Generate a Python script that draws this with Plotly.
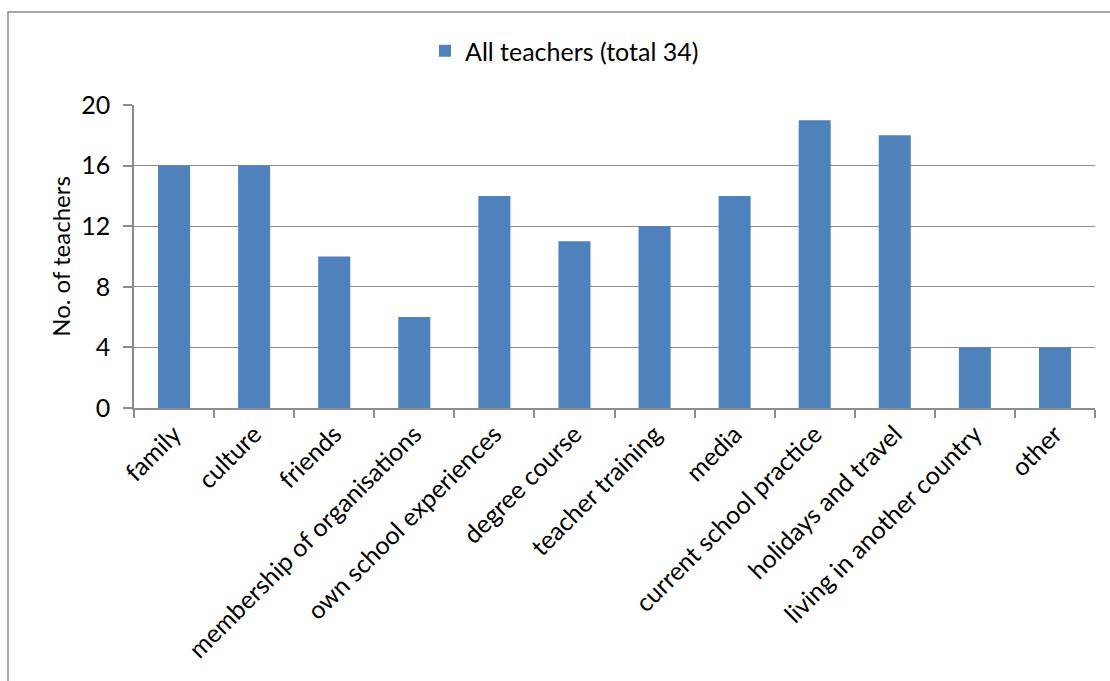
import plotly.graph_objects as go

categories = ["family", "culture", "friends", "membership of organisations",
              "own school experiences", "degree course", "teacher training", "media",
              "current school practice", "holidays and travel",
              "living in another country", "other"]
values = [16, 16, 10, 6, 14, 11, 12, 14, 19, 18, 4, 4]
series_name = "All teachers (total 34)"
y_ticks = [0, 4, 8, 12, 16, 20]

font_family = "Lato, Open Sans, Noto Sans, sans-serif"
grid = "#8c8c8c"

fig = go.Figure()
fig.add_trace(go.Bar(x=categories, y=values, name=series_name,
                     marker=dict(color="#4f81bd", line=dict(width=0)),
                     showlegend=True))

W, H = 1110, 681
l, r, t, b = 134, 15, 105, 273
pw, ph = W - l - r, H - t - b

fig.update_layout(
    width=W, height=H,
    margin=dict(l=l, r=r, t=t, b=b),
    paper_bgcolor="white", plot_bgcolor="white",
    font=dict(family=font_family, size=24, color="black"),
    bargap=0.6,
    showlegend=True,
    legend=dict(orientation="h", x=(425 - l) / pw, xanchor="left", y=1 + (105 - 51) / ph,
                yanchor="middle", font=dict(size=25), itemsizing="constant",
                bgcolor="rgba(0,0,0,0)"),
    xaxis=dict(tickangle=-45, showline=True, linecolor=grid, linewidth=1.5,
               ticks="outside", tickson="boundaries", ticklen=8, tickcolor=grid,
               tickwidth=1.5, showgrid=False, tickfont=dict(size=25)),
    yaxis=dict(range=[0, 20], tickvals=y_ticks, showline=True, linecolor=grid,
               linewidth=1.5, ticks="outside", ticklen=9, tickcolor=grid, tickwidth=1.5,
               ticklabelstandoff=8,
               showgrid=True, gridcolor=grid, gridwidth=1.2, zeroline=False,
               title=dict(text="No. of teachers", font=dict(size=24), standoff=4),
               tickfont=dict(size=25)),
    shapes=[dict(type="rect", xref="paper", yref="paper",
                 x0=(8 - l) / pw, x1=1.3, y0=-2.0, y1=(H - b - 12) / ph,
                 line=dict(color="#8c8c8c", width=1.5), fillcolor="rgba(0,0,0,0)",
                 layer="below")],
)

fig.write_html("out.html")
